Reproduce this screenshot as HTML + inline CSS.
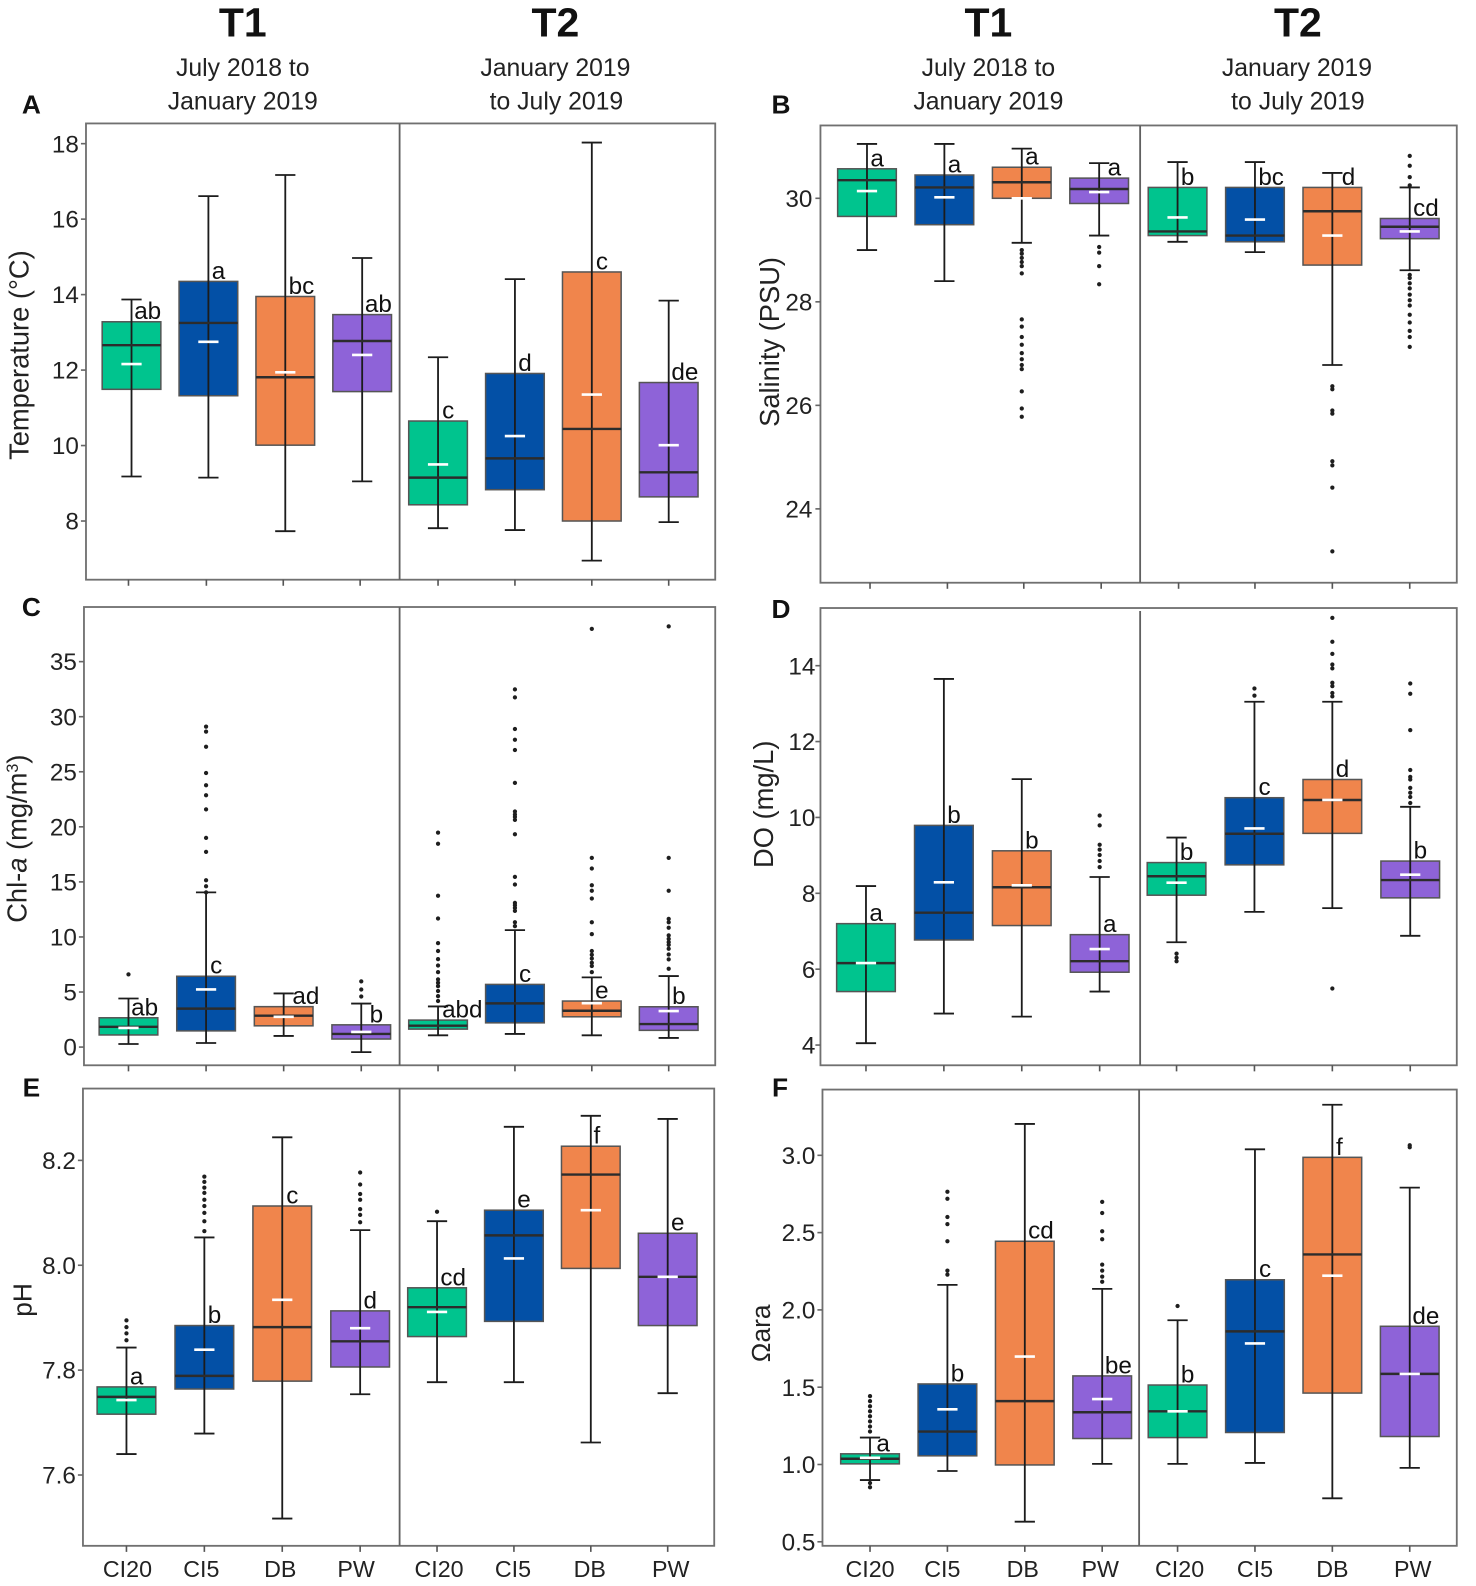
<!DOCTYPE html>
<html lang="en">
<head>
<meta charset="utf-8">
<title>Boxplots of water quality by site and period</title>
<style>
html,body{margin:0;padding:0;background:#fff;width:1476px;height:1586px;overflow:hidden}
svg{display:block;font-family:"Liberation Sans",sans-serif}
</style>
</head>
<body>
<svg id="chart" xmlns="http://www.w3.org/2000/svg" width="1476" height="1586" viewBox="0 0 1459 1567.7">
  <rect x="0" y="0" width="1459" height="1568" fill="#fff"/>
  <g fill="#111" font-weight="bold" font-size="40.5" text-anchor="middle">
    <text x="240" y="36">T1</text>
    <text x="549" y="36">T2</text>
    <text x="977" y="36">T1</text>
    <text x="1283" y="36">T2</text>
  </g>
  <g fill="#222" font-size="24.5" text-anchor="middle">
    <text x="240" y="75">July 2018 to</text>
    <text x="240" y="108">January 2019</text>
    <text x="549" y="75">January 2019</text>
    <text x="550" y="108">to July 2019</text>
    <text x="977" y="75">July 2018 to</text>
    <text x="977" y="108">January 2019</text>
    <text x="1282" y="75">January 2019</text>
    <text x="1283" y="108">to July 2019</text>
  </g>
</svg>
<script>
// ---- shared categories ----
const sites = ["CI20","CI5","DB","PW","CI20","CI5","DB","PW"];

// ---- A: temperature ----
const tempTicks = [8,10,12,14,16,18];
const tempWhiskerHigh = [13.87,16.61,17.17,14.97,12.34,14.41,18.03,13.84];
const tempQ3 = [13.28,14.35,13.95,13.47,10.65,11.91,14.60,11.67];
const tempMedian = [12.66,13.25,11.81,12.77,9.15,9.66,10.44,9.29];
const tempQ1 = [11.49,11.32,10.01,11.43,8.43,8.83,8.00,8.64];
const tempWhiskerLow = [9.18,9.15,7.73,9.05,7.81,7.76,6.95,7.97];
const tempMean = [12.16,12.75,11.94,12.40,9.50,10.25,11.35,10.01];
const tempLetters = ["ab","a","bc","ab","c","d","c","de"];
const tempOutliers = [[],[],[],[],[],[],[],[]];

// ---- B: salinity ----
const salTicks = [24,26,28,30];
const salWhiskerHigh = [31.05,31.05,30.96,30.68,30.70,30.70,30.49,30.21];
const salQ3 = [30.57,30.45,30.60,30.39,30.21,30.21,30.21,29.61];
const salMedian = [30.35,30.21,30.31,30.18,29.36,29.28,29.75,29.45];
const salQ1 = [29.65,29.49,30.00,29.90,29.28,29.16,28.71,29.22];
const salWhiskerLow = [29.00,28.40,29.14,29.28,29.16,28.96,26.78,28.61];
const salMean = [30.14,30.02,30.00,30.12,29.63,29.59,29.28,29.36];
const salLetters = ["a","a","a","a","b","bc","d","cd"];
const salOutliers = [
  [],[],
  [29.00,28.93,28.85,28.77,28.69,28.55,27.66,27.52,27.32,27.17,27.01,26.89,26.78,26.70,26.27,25.94,25.78],
  [29.06,28.95,28.69,28.34],
  [],[],
  [26.37,26.31,25.90,25.84,24.92,24.84,24.41,23.18],
  [30.82,30.63,30.41,30.25,28.52,28.46,28.36,28.26,28.14,28.03,27.93,27.75,27.60,27.44,27.32,27.13]
];

// ---- C: chlorophyll ----
const chlTicks = [0,5,10,15,20,25,30,35];
const chlWhiskerHigh = [4.41,14.05,4.87,3.95,3.69,10.62,6.33,6.45];
const chlQ3 = [2.66,6.43,3.67,2.02,2.45,5.69,4.18,3.66];
const chlMedian = [1.84,3.49,2.85,1.19,1.94,3.97,3.30,2.09];
const chlQ1 = [1.10,1.47,1.93,0.73,1.63,2.20,2.75,1.52];
const chlWhiskerLow = [0.28,0.37,1.01,-0.46,1.07,1.19,1.07,0.83];
const chlMean = [1.74,5.23,2.75,1.38,null,null,3.99,3.27];
const chlLetters = ["ab","c","ad","b","abd","c","e","b"];
const chlOutliers = [
  [6.6],
  [29.10,28.65,27.27,24.89,23.78,22.87,21.58,19.00,17.72,15.15,14.60,14.05],
  [],
  [5.97,5.23,4.59],
  [19.47,18.46,13.74,11.68,9.44,8.72,7.99,7.41,6.81,6.15,5.84,5.54,5.09,4.63,4.18],
  [32.48,31.75,28.88,27.91,26.98,23.99,21.39,21.12,20.90,20.63,19.33,15.45,14.76,13.09,12.88,12.64,12.37,11.34,10.98],
  [37.98,17.18,16.22,14.70,14.19,13.49,11.34,10.26,8.72,8.38,8.04,7.66,7.36,6.81],
  [38.20,17.18,14.19,11.64,11.34,10.84,10.14,9.83,9.53,9.28,8.93,8.41,7.96,7.11]
];

// ---- D: dissolved oxygen ----
const doTicks = [4,6,8,10,12,14];
const doWhiskerHigh = [8.19,13.65,11.01,8.43,9.47,13.05,13.05,10.28];
const doQ3 = [7.20,9.79,9.12,6.91,8.81,10.52,11.00,8.85];
const doMedian = [6.16,7.49,8.16,6.21,8.45,9.57,10.46,8.35];
const doQ1 = [5.41,6.77,7.15,5.92,7.95,8.75,9.58,7.88];
const doWhiskerLow = [4.05,4.83,4.75,5.41,6.71,7.51,7.61,6.88];
const doMean = [6.16,8.29,8.21,6.53,8.28,9.71,10.46,8.49];
const doLetters = ["a","b","b","a","b","c","d","b"];
const doOutliers = [
  [],[],[],
  [10.05,9.79,9.28,9.15,9.01,8.85,8.69],
  [6.41,6.30,6.21],
  [13.40,13.21],
  [15.26,14.63,14.31,14.03,13.93,13.55,13.46,13.28,13.19,5.49],
  [13.53,13.26,12.30,11.25,11.07,11.00,10.78,10.65,10.54,10.38]
];

// ---- E: pH ----
const phTicks = [7.6,7.8,8.0,8.2];
const phWhiskerHigh = [7.843,8.053,8.244,8.067,8.084,8.264,8.285,8.279];
const phQ3 = [7.768,7.885,8.113,7.913,7.957,8.105,8.227,8.061];
const phMedian = [7.749,7.789,7.882,7.855,7.920,8.057,8.173,7.978];
const phQ1 = [7.716,7.764,7.779,7.806,7.864,7.893,7.994,7.885];
const phWhiskerLow = [7.640,7.679,7.517,7.754,7.777,7.777,7.662,7.756];
const phMean = [7.743,7.839,7.934,7.880,7.911,8.013,8.105,7.978];
const phLetters = ["a","b","c","d","cd","e","f","e"];
const phOutliers = [
  [7.895,7.882,7.870,7.857],
  [8.169,8.159,8.148,8.138,8.125,8.113,8.100,8.084,8.065],
  [],
  [8.177,8.154,8.136,8.125,8.107,8.096,8.082],
  [8.102],[],[],[]
];

// ---- F: aragonite saturation ----
const araTicks = [0.5,1.0,1.5,2.0,2.5,3.0];
const araWhiskerHigh = [1.174,2.162,3.203,2.136,1.933,3.039,3.327,2.791];
const araQ3 = [1.069,1.521,2.444,1.573,1.514,2.195,2.987,1.894];
const araMedian = [1.037,1.213,1.410,1.338,1.344,1.861,2.359,1.586];
const araQ1 = [1.004,1.056,0.997,1.168,1.174,1.207,1.462,1.181];
const araWhiskerLow = [0.899,0.958,0.630,1.004,1.004,1.010,0.781,0.978];
const araMean = [1.043,1.357,1.698,1.423,1.344,1.783,2.221,1.586];
const araLetters = ["a","b","cd","be","b","c","f","de"];
const araOutliers = [
  [1.442,1.410,1.377,1.344,1.312,1.279,1.246,1.213,0.880,0.853],
  [2.764,2.719,2.601,2.555,2.444,2.254,2.228],
  [],
  [2.699,2.627,2.509,2.457,2.293,2.254,2.215,2.182],
  [2.025],[],[],
  [3.065,3.052]
];

// ---- rendering ----
const NS = "http://www.w3.org/2000/svg";
const svg = document.getElementById("chart");
const fills = ["#00c48e","#0350a6","#f0854c","#8e63d8"];
const siteFill = i => fills[i % 4];

function mk(tag, parent, attrs, txt) {
  const e = document.createElementNS(NS, tag);
  for (const k in attrs) e.setAttribute(k, attrs[k]);
  if (txt !== undefined) e.textContent = txt;
  parent.appendChild(e);
  return e;
}
const fmt = (v, d) => v.toFixed(d);

function drawPanel(p) {
  const y = v => p.y0 + (v - p.v0) * (p.y1 - p.y0) / (p.v1 - p.v0);
  const x = i => i < 4 ? p.c0 + i * p.step0 : p.c1 + (i - 4) * p.step1;
  const g = mk("g", svg, {});
  
  

  const frame = mk("rect", g, {x:p.left, y:p.top, width:p.right-p.left, height:p.bottom-p.top, fill:"none", stroke:"#707070", "stroke-width":1.8});
  
  

  const divider = mk("line", g, {x1:p.div, x2:p.div, y1:p.divTop, y2:p.bottom, stroke:"#606060", "stroke-width":1.8});
  
  

  const panelLetter = mk("text", g, {x:p.tagX, y:p.tagY, "font-size":26, "font-weight":"bold", "text-anchor":"middle", fill:"#111"}, p.tag);
  
  

  const title = mk("text", g, {transform:"translate("+p.titleX+","+p.titleY+") rotate(-90)", "font-size":p.titleSize, "text-anchor":"middle", fill:"#222"});
  title.innerHTML = p.title;
  
  

  p.ticks.forEach(t => {
    const tick = mk("line", g, {x1:p.left-5, x2:p.left, y1:y(t), y2:y(t), stroke:"#666", "stroke-width":1.6});
    
    
    const lab = mk("text", g, {x:p.labelX, y:y(t)+8.5, "font-size":24, "text-anchor":"end", fill:"#222"}, fmt(t, p.dec));
    
    
  });

  sites.forEach((site, i) => {
    const cx = x(i), hw = 29, cap = 10;
    const tx = cx + (p.tickNudge ? p.tickNudge[i] : 0);
    const tick = mk("line", g, {x1:tx, x2:tx, y1:p.bottom, y2:p.bottom+6, stroke:"#555", "stroke-width":1.6});
    
    
    if (p.showX) {
      const lx = cx + p.labelNudge[i];
      const xl = mk("text", g, {x:lx, y:p.bottom+31, "font-size":23, "text-anchor":"middle", fill:"#222"}, site);
      
      
    }
    const b = mk("g", g, {});
    
    

    const box = mk("rect", b, {x:cx-hw, y:y(p.q3[i]), width:2*hw, height:y(p.q1[i])-y(p.q3[i]), fill:siteFill(i), stroke:"#555", "stroke-width":1.5});
    
    

    const whisker = mk("line", b, {x1:cx, x2:cx, y1:y(p.hi[i]), y2:y(p.lo[i]), stroke:"#1c1c1c", "stroke-width":1.8});
    
    

    const capHi = mk("line", b, {x1:cx-cap, x2:cx+cap, y1:y(p.hi[i]), y2:y(p.hi[i]), stroke:"#1c1c1c", "stroke-width":1.8});
    
    

    const capLo = mk("line", b, {x1:cx-cap, x2:cx+cap, y1:y(p.lo[i]), y2:y(p.lo[i]), stroke:"#1c1c1c", "stroke-width":1.8});
    
    

    const med = mk("line", b, {x1:cx-hw, x2:cx+hw, y1:y(p.med[i]), y2:y(p.med[i]), stroke:"#2c2c2c", "stroke-width":2.4});
    
    

    if (p.mean[i] !== null) {
      const m = mk("line", b, {x1:cx-10, x2:cx+10, y1:y(p.mean[i]), y2:y(p.mean[i]), stroke:"#fff", "stroke-width":2.6});
      
      
    }

    p.out[i].forEach(v => {
      const d = mk("circle", b, {cx:cx, cy:y(v), r:2.1, fill:"#1e1e1e"});
      
      
    });

    const word = p.letters[i];
    const off = (word.length === 1 ? 10 : word.length === 2 ? 16 : 24) + ((p.letterNudge && p.letterNudge[i]) || 0);
    const let_ = mk("text", b, {x:cx+off, y:y(p.q3[i])-2.5, "font-size":24, "text-anchor":"middle", fill:"#111"}, word);
    
    
  });
}

const panels = [
  {key:"temperature", tag:"A", tagX:31, tagY:112, left:85, right:707, top:122, bottom:573, div:395, divTop:122,
   v0:18, y0:142, v1:8, y1:515, c0:130, step0:76, c1:433, step1:76, labelX:78, dec:0, showX:false,
   tickNudge:[-3,-2,-2,-2,0,0,0,0],
   titleX:28, titleY:351, titleSize:27, title:'Temperature (°C)', ticks:tempTicks,
   hi:tempWhiskerHigh, q3:tempQ3, med:tempMedian, q1:tempQ1, lo:tempWhiskerLow, mean:tempMean, letters:tempLetters, out:tempOutliers},
  {key:"salinity", tag:"B", tagX:772, tagY:112, left:811, right:1440, top:124, bottom:576, div:1127, divTop:124,
   v0:30, y0:196, v1:24, y1:503, c0:857, step0:76.5, c1:1164, step1:76.5, labelX:803, dec:0, showX:false,
   tickNudge:[3,3,2,2,1,0,0,0], letterNudge:{3:5,6:6},
   titleX:770, titleY:338, titleSize:27, title:'Salinity (PSU)', ticks:salTicks,
   hi:salWhiskerHigh, q3:salQ3, med:salMedian, q1:salQ1, lo:salWhiskerLow, mean:salMean, letters:salLetters, out:salOutliers},
  {key:"chlorophyll", tag:"C", tagX:31, tagY:609, left:83, right:707, top:600, bottom:1053, div:395, divTop:600,
   v0:0, y0:1035, v1:35, y1:654, c0:127, step0:76.7, c1:433, step1:76, labelX:76, dec:0, showX:false,
   letterNudge:{2:6,3:5},
   titleX:26, titleY:829, titleSize:27, title:'Chl-<tspan font-style="italic">a</tspan> (mg/m<tspan dy="-8" font-size="16">3</tspan><tspan dy="8">)</tspan>', ticks:chlTicks,
   hi:chlWhiskerHigh, q3:chlQ3, med:chlMedian, q1:chlQ1, lo:chlWhiskerLow, mean:chlMean, letters:chlLetters, out:chlOutliers},
  {key:"dissolved-oxygen", tag:"D", tagX:772, tagY:611, left:811, right:1440, top:601, bottom:1053, div:1127, divTop:604,
   v0:14, y0:658, v1:4, y1:1033, c0:856, step0:77, c1:1163, step1:77, labelX:806, dec:0, showX:false,
   titleX:764, titleY:795, titleSize:27, title:'DO (mg/L)', ticks:doTicks,
   hi:doWhiskerHigh, q3:doQ3, med:doMedian, q1:doQ1, lo:doWhiskerLow, mean:doMean, letters:doLetters, out:doOutliers},
  {key:"ph", tag:"E", tagX:31, tagY:1084, left:82, right:706, top:1076, bottom:1528, div:395, divTop:1076,
   v0:8.2, y0:1147, v1:7.6, y1:1458, c0:125, step0:77, c1:432, step1:76, labelX:75, dec:1, showX:true,
   labelNudge:[1,-3,-2,-4,2,-1,-1,3], letterNudge:{6:-4},
   titleX:31, titleY:1285, titleSize:26, title:'pH', ticks:phTicks,
   hi:phWhiskerHigh, q3:phQ3, med:phMedian, q1:phQ1, lo:phWhiskerLow, mean:phMean, letters:phLetters, out:phOutliers},
  {key:"aragonite", tag:"F", tagX:771, tagY:1084, left:813, right:1440, top:1077, bottom:1528, div:1126, divTop:1077,
   v0:3.0, y0:1142, v1:0.5, y1:1524, c0:860, step0:76.5, c1:1164, step1:76.5, labelX:806, dec:1, showX:true,
   labelNudge:[0,-5,-2,-2,2,0,0,3], letterNudge:{0:3,6:-3},
   titleX:761, titleY:1318, titleSize:26, title:'Ωara', ticks:araTicks,
   hi:araWhiskerHigh, q3:araQ3, med:araMedian, q1:araQ1, lo:araWhiskerLow, mean:araMean, letters:araLetters, out:araOutliers}
];
panels.forEach(drawPanel);
</script>
</body>
</html>
